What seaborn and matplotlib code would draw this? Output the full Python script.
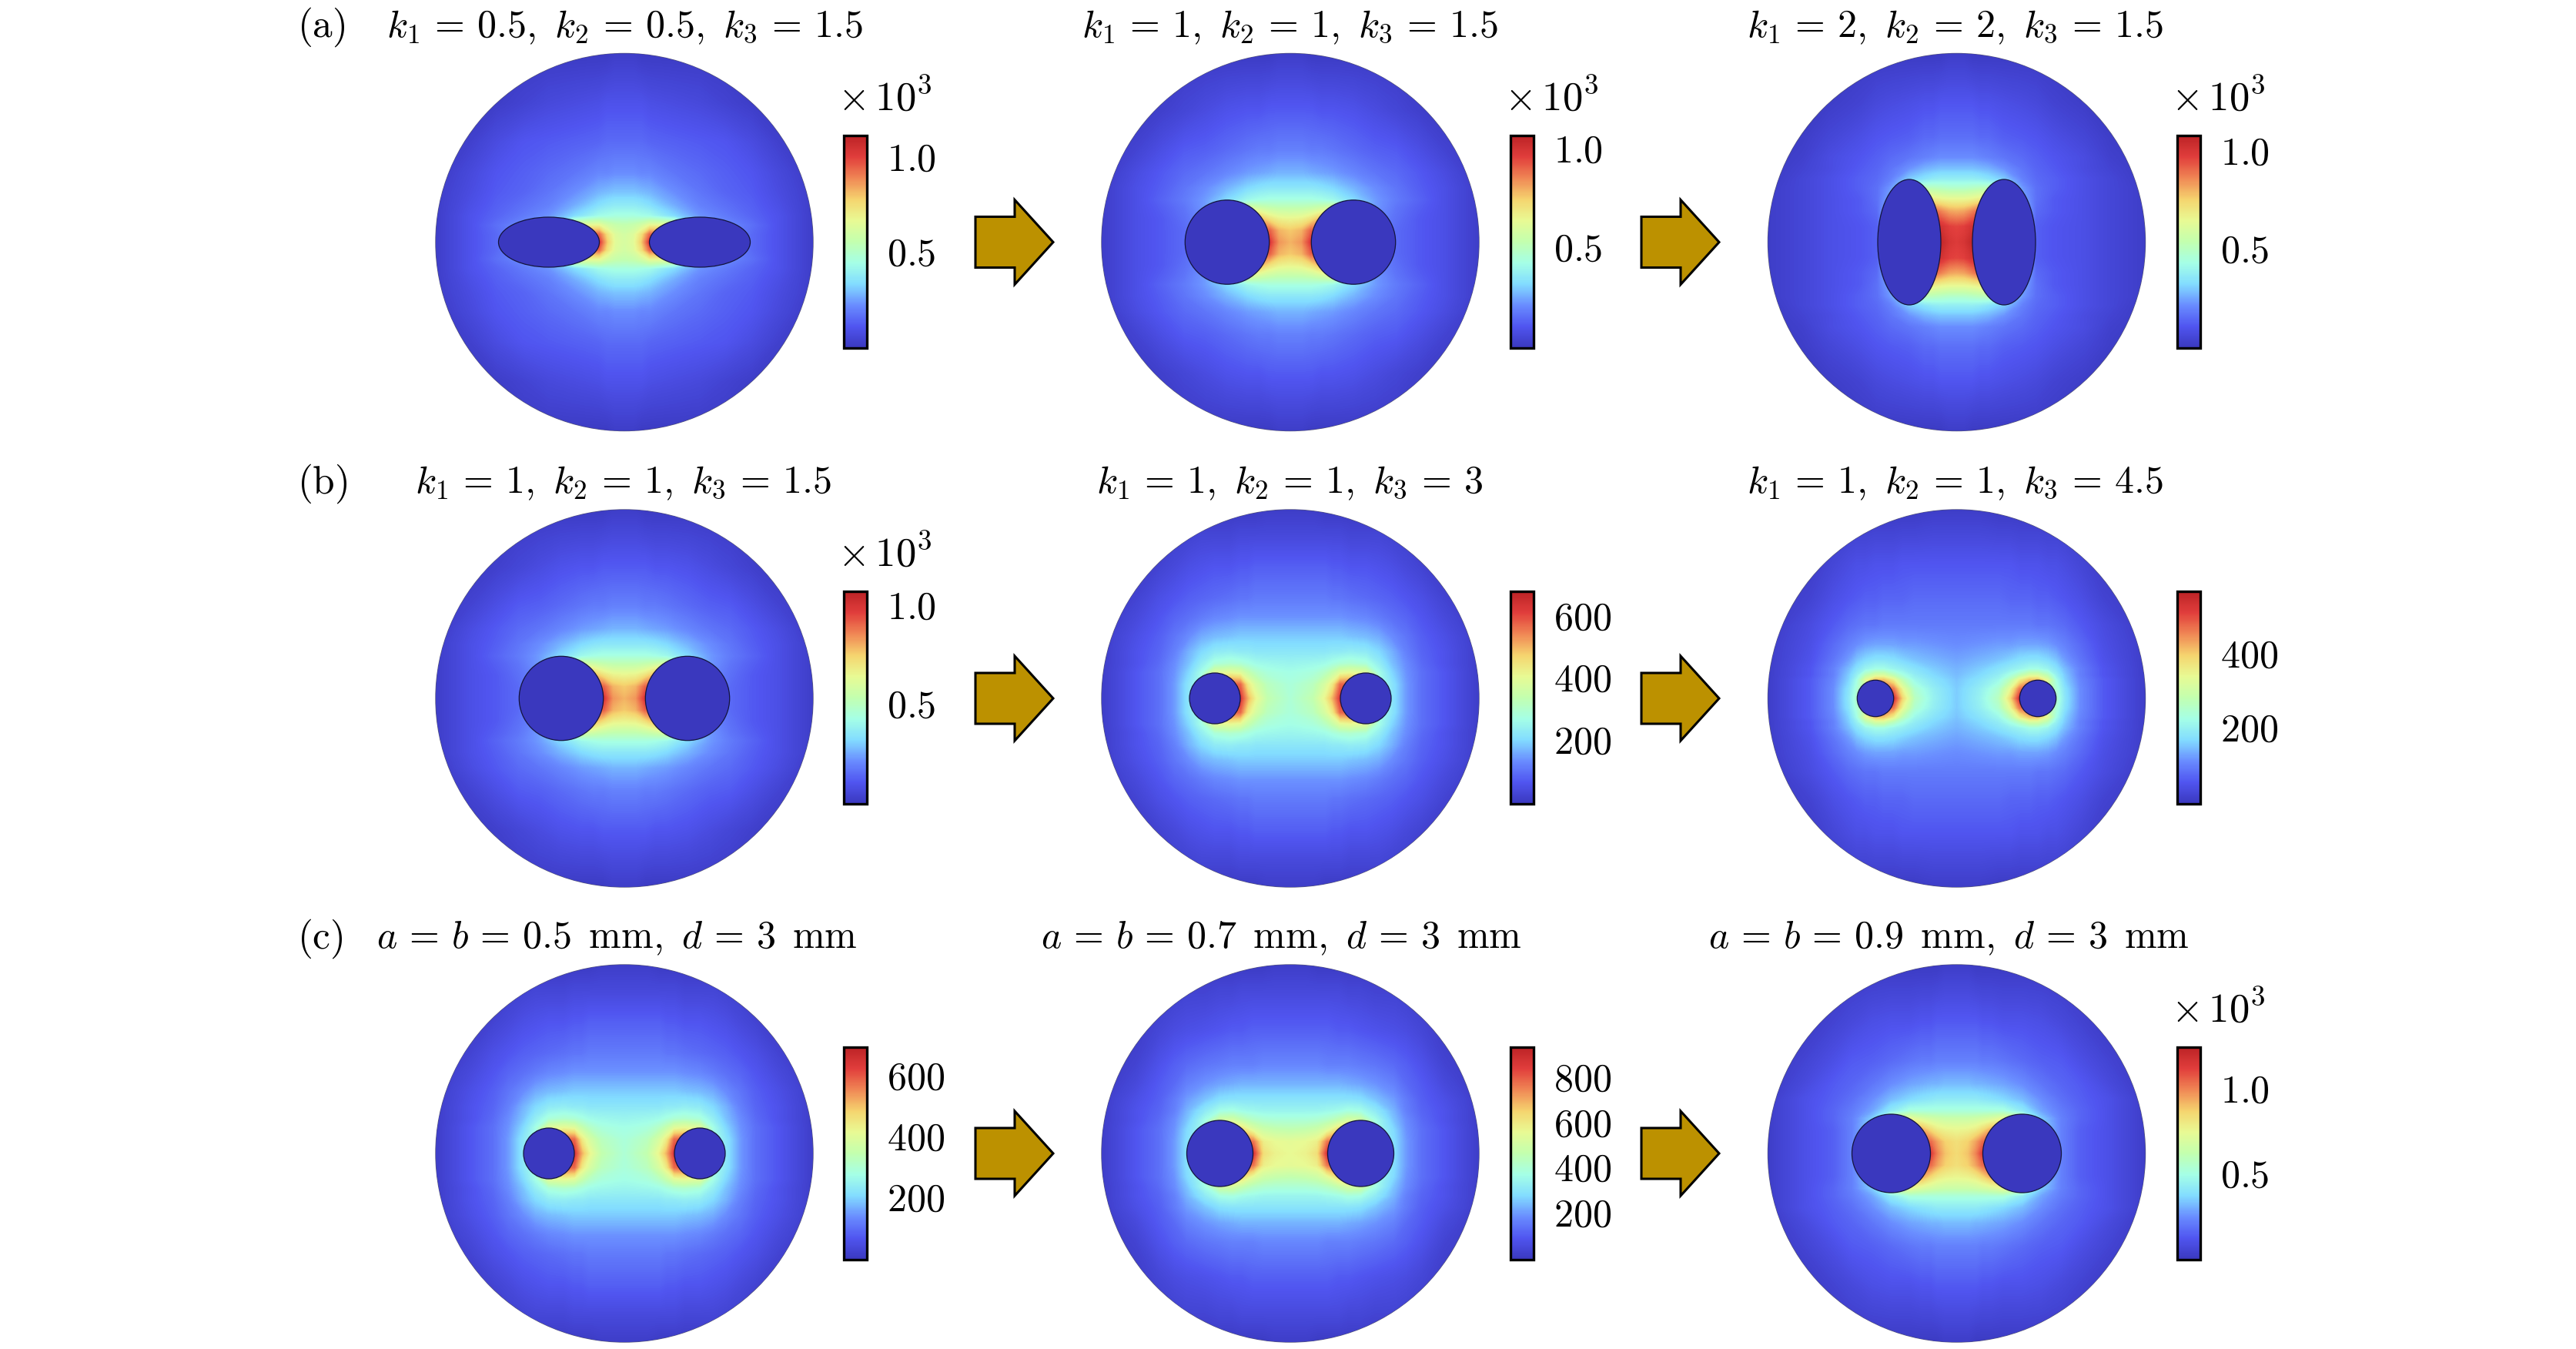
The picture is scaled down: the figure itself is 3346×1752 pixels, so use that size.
import numpy as np
import matplotlib
matplotlib.use("Agg")
import matplotlib.pyplot as plt
from matplotlib.cm import ScalarMappable
from matplotlib.colors import Normalize
from matplotlib.patches import Circle, Ellipse, Polygon
from matplotlib.transforms import ScaledTranslation
import seaborn as sns

W, H = 3346, 1752

# layout, in pixels of the reference
col_x = [811, 1676, 2541.5]
row_y = [314.5, 907, 1498]
disk_r = 245
bar_x = [1096, 1962, 2828]
bar_w = 30
bar_top = [176, 768, 1360]
bar_h = 276
arrow_x = [1267, 2132]

# colour scale (bottom to top)
scale_colors = ["#3A38BE", "#5055F0", "#698CFF", "#82DCFF", "#A5FFE6", "#C3FFAF",
                "#E8FA94", "#F5D46E", "#F08755", "#E13E3C", "#BC2326"]

titles = [
    [r"$k_1\,=\,0.5,\ k_2\,=\,0.5,\ k_3\,=\,1.5$", r"$k_1\,=\,1,\ k_2\,=\,1,\ k_3\,=\,1.5$",
     r"$k_1\,=\,2,\ k_2\,=\,2,\ k_3\,=\,1.5$"],
    [r"$k_1\,=\,1,\ k_2\,=\,1,\ k_3\,=\,1.5$", r"$k_1\,=\,1,\ k_2\,=\,1,\ k_3\,=\,3$",
     r"$k_1\,=\,1,\ k_2\,=\,1,\ k_3\,=\,4.5$"],
    [r"$a\,=\,b\,=\,0.5\ \,\mathrm{mm},\ d\,=\,3\ \,\mathrm{mm}$",
     r"$a\,=\,b\,=\,0.7\ \,\mathrm{mm},\ d\,=\,3\ \,\mathrm{mm}$",
     r"$a\,=\,b\,=\,0.9\ \,\mathrm{mm},\ d\,=\,3\ \,\mathrm{mm}$"],
]
title_x = [[811, 1676, 2540], [810, 1675, 2540], [801, 1664, 2531]]
row_labels = [r"$\mathrm{(a)}$", r"$\mathrm{(b)}$", r"$\mathrm{(c)}$"]

# hole centre offset and half axes, per panel
hole_d = [[98, 82, 61.5], [82, 98, 105.5], [98, 91.5, 85]]
hole_a = [[65.5, 54.7, 41], [54.7, 33, 23.7], [33, 43, 51]]
hole_b = [[32.5, 54.7, 81.5], [54.7, 33, 23.7], [33, 43, 51]]

# colour bar range and ticks
bar_max = [[1126, 1078, 1090], [1083, 685, 573], [701, 942, 1259]]
bar_ticks = [[[500, 1000], [500, 1000], [500, 1000]],
             [[500, 1000], [200, 400, 600], [200, 400]],
             [[200, 400, 600], [200, 400, 600, 800], [500, 1000]]]
bar_labels = [[["0.5", "1.0"], ["0.5", "1.0"], ["0.5", "1.0"]],
              [["0.5", "1.0"], ["200", "400", "600"], ["200", "400"]],
              [["200", "400", "600"], ["200", "400", "600", "800"], ["0.5", "1.0"]]]
bar_power = [[True, True, True], [True, False, False], [False, False, True]]

# field, one quarter of each disk, in % of the colour scale
a1_x = [0, 12, 22, 33, 65, 98, 130, 165, 200, 245]
a1_y = [0, 10, 22, 34, 48, 65, 90, 130, 180, 245]
a1_z = [[55, 58, 70, 92, 92, 50, 20, 14, 9, 2],
        [54, 57, 66, 84, 84, 40, 20, 14, 9, 2],
        [50, 51, 54, 60, 60, 30, 20, 15, 9, 2],
        [41, 41, 40, 39, 30, 21, 17, 13, 9, 2],
        [34, 34, 33, 31, 24, 18, 15, 12, 8, 2],
        [27, 27, 26, 25, 20, 16, 13, 11, 7, 2],
        [20, 20, 19, 19, 16, 14, 12, 10, 6, 1],
        [14, 14, 14, 13, 12, 11, 10, 7, 3, 1],
        [9, 9, 9, 8, 7, 6, 4, 2, 1, 1],
        [2, 2, 1, 1, 1, 1, 1, 1, 1, 1]]

a2_x = [0, 15, 27, 40, 55, 82, 110, 137, 165, 200, 245]
a2_y = [0, 15, 30, 45, 55, 70, 90, 120, 170, 245]
a2_z = [[74, 78, 92, 92, 92, 50, 20, 14, 11, 8, 2],
        [71, 74, 85, 85, 85, 50, 20, 14, 11, 8, 2],
        [61, 62, 66, 74, 74, 50, 20, 15, 11, 8, 2],
        [49, 49, 50, 52, 55, 40, 22, 16, 12, 8, 2],
        [41, 41, 41, 40, 38, 30, 22, 17, 13, 8, 2],
        [33, 33, 33, 32, 30, 25, 20, 16, 12, 8, 2],
        [25, 25, 24, 23, 22, 19, 16, 14, 11, 7, 1],
        [18, 18, 17, 17, 16, 14, 12, 11, 8, 4, 1],
        [11, 11, 11, 10, 10, 9, 7, 5, 3, 1, 1],
        [2, 2, 1, 1, 1, 1, 1, 1, 1, 1, 1]]

a3_x = [0, 10, 20, 30, 41, 61, 85, 103, 125, 165, 200, 245]
a3_y = [0, 20, 40, 55, 70, 82, 95, 110, 135, 180, 245]
a3_z = [[91, 93, 98, 98, 98, 60, 30, 12, 10, 8, 5, 2],
        [89, 90, 94, 94, 94, 60, 30, 12, 10, 8, 5, 2],
        [75, 76, 80, 85, 85, 60, 30, 14, 11, 8, 5, 2],
        [61, 61, 62, 64, 66, 50, 25, 15, 11, 8, 5, 2],
        [45, 45, 46, 47, 48, 40, 22, 15, 12, 8, 5, 2],
        [35, 35, 35, 34, 32, 28, 18, 14, 12, 8, 5, 1],
        [27, 27, 27, 26, 25, 21, 16, 13, 11, 7, 4, 1],
        [20, 20, 20, 19, 18, 16, 14, 12, 10, 7, 3, 1],
        [15, 15, 15, 14, 14, 12, 11, 10, 8, 5, 2, 1],
        [10, 10, 10, 9, 9, 8, 7, 6, 4, 2, 1, 1],
        [2, 2, 1, 1, 1, 1, 1, 1, 1, 1, 1, 1]]

b2_x = [0, 30, 45, 55, 65, 78, 98, 115, 131, 150, 170, 200, 245]
b2_y = [0, 18, 33, 45, 60, 80, 105, 130, 170, 210, 245]
b2_z = [[43, 50, 61, 74, 92, 92, 70, 40, 33, 22, 15, 10, 2],
        [42, 47, 55, 64, 84, 86, 70, 40, 33, 22, 15, 10, 2],
        [40, 42, 46, 51, 58, 60, 58, 40, 30, 21, 15, 10, 2],
        [37, 38, 39, 41, 43, 44, 42, 35, 27, 20, 14, 9, 2],
        [33, 33, 33, 34, 34, 35, 34, 30, 25, 18, 13, 9, 2],
        [28, 28, 28, 28, 28, 27, 26, 24, 20, 16, 12, 8, 2],
        [21, 21, 21, 21, 21, 20, 19, 17, 15, 13, 10, 6, 1],
        [17, 17, 17, 16, 16, 15, 14, 13, 12, 10, 8, 4, 1],
        [12, 12, 12, 11, 11, 10, 10, 9, 8, 6, 4, 2, 1],
        [6, 6, 6, 6, 6, 5, 5, 5, 4, 3, 2, 1, 1],
        [2, 2, 1, 1, 1, 1, 1, 1, 1, 1, 1, 1, 1]]

b3_x = [0, 30, 55, 70, 82, 95, 105, 118, 129, 140, 160, 190, 245]
b3_y = [0, 12, 24, 30, 38, 50, 70, 95, 130, 175, 245]
b3_z = [[28, 36, 47, 68, 93, 93, 70, 50, 45, 33, 20, 11, 2],
        [28, 35, 44, 60, 82, 88, 80, 50, 43, 32, 20, 11, 2],
        [27, 32, 38, 48, 62, 72, 72, 58, 40, 29, 19, 11, 2],
        [26, 30, 35, 41, 48, 56, 56, 48, 36, 28, 18, 10, 2],
        [25, 28, 32, 35, 37, 40, 40, 37, 32, 26, 18, 10, 2],
        [23, 25, 27, 29, 31, 32, 32, 30, 27, 22, 16, 9, 2],
        [20, 21, 22, 22, 23, 23, 23, 22, 20, 18, 14, 8, 2],
        [17, 17, 17, 17, 17, 17, 16, 16, 15, 14, 11, 7, 1],
        [14, 14, 14, 13, 13, 13, 12, 12, 11, 10, 8, 4, 1],
        [10, 10, 10, 10, 9, 9, 9, 8, 8, 7, 5, 2, 1],
        [2, 2, 1, 1, 1, 1, 1, 1, 1, 1, 1, 1, 1]]

c2_x = [0, 20, 35, 48, 62, 75, 91, 110, 134, 150, 170, 200, 245]
c2_y = [0, 15, 30, 43, 55, 70, 90, 115, 160, 210, 245]
c2_z = [[60, 62, 67, 92, 92, 92, 70, 40, 31, 22, 15, 10, 2],
        [59, 60, 63, 82, 88, 88, 70, 40, 31, 22, 15, 10, 2],
        [50, 51, 53, 58, 68, 72, 60, 40, 30, 21, 15, 10, 2],
        [43, 43, 44, 46, 50, 55, 54, 40, 27, 20, 14, 9, 2],
        [37, 37, 37, 38, 39, 41, 40, 34, 25, 18, 13, 9, 2],
        [32, 32, 32, 32, 32, 32, 31, 27, 22, 17, 12, 8, 2],
        [25, 25, 25, 25, 25, 24, 23, 21, 18, 14, 11, 6, 1],
        [19, 19, 19, 18, 18, 18, 17, 16, 14, 12, 9, 4, 1],
        [12, 12, 12, 12, 11, 11, 10, 9, 8, 7, 5, 2, 1],
        [6, 6, 6, 6, 6, 5, 5, 4, 4, 3, 2, 1, 1],
        [2, 2, 1, 1, 1, 1, 1, 1, 1, 1, 1, 1, 1]]

c3_x = [0, 15, 25, 33, 45, 60, 85, 110, 136, 160, 200, 245]
c3_y = [0, 15, 30, 45, 55, 70, 90, 120, 170, 245]
c3_z = [[68, 72, 80, 90, 90, 90, 60, 30, 18, 12, 8, 2],
        [67, 70, 76, 83, 88, 88, 60, 30, 18, 12, 8, 2],
        [61, 62, 64, 68, 76, 76, 60, 30, 18, 12, 8, 2],
        [52, 52, 53, 54, 56, 60, 55, 28, 18, 13, 8, 2],
        [42, 42, 42, 42, 42, 42, 34, 23, 17, 13, 8, 2],
        [34, 34, 34, 33, 32, 30, 26, 20, 15, 12, 8, 2],
        [26, 26, 25, 25, 24, 23, 20, 16, 13, 11, 6, 1],
        [18, 18, 18, 17, 17, 16, 14, 12, 11, 8, 4, 1],
        [11, 11, 11, 10, 10, 9, 9, 8, 6, 4, 1, 1],
        [2, 2, 1, 1, 1, 1, 1, 1, 1, 1, 1, 1]]

# (b) first panel repeats k = 1, 1, 1.5 and (c) first repeats the look of k3 = 3
fields = [[(a1_x, a1_y, a1_z), (a2_x, a2_y, a2_z), (a3_x, a3_y, a3_z)],
          [(a2_x, a2_y, a2_z), (b2_x, b2_y, b2_z), (b3_x, b3_y, b3_z)],
          [(b2_x, b2_y, b2_z), (c2_x, c2_y, c2_z), (c3_x, c3_y, c3_z)]]


def mirror(xs, ys, zs):
    xs, ys, zs = np.array(xs, float), np.array(ys, float), np.array(zs, float)
    x_all = np.concatenate([-xs[:0:-1], xs])
    y_all = np.concatenate([-ys[:0:-1], ys])
    z_all = np.hstack([zs[:, :0:-1], zs])
    z_all = np.vstack([z_all[:0:-1], z_all])
    return x_all, y_all, z_all


sns.set_theme(style="white", rc={"mathtext.fontset": "cm", "text.color": "black",
                                 "axes.edgecolor": "black", "ytick.color": "black"})
field_cmap = sns.blend_palette(scale_colors, as_cmap=True)

fig = plt.figure(figsize=(W / 200, H / 200))
ax = fig.add_axes([0, 0, 1, 1])
font_size = 18
label_shift = ScaledTranslation(0, 4 / 200, fig.dpi_scale_trans)

for r in range(3):
    ax.text(386, row_y[r] - 266.5, row_labels[r], fontsize=font_size + 0.5, ha="left", va="baseline")
    for c in range(3):
        cx, cy = col_x[c], row_y[r]
        vmax = bar_max[r][c]
        ax.text(title_x[r][c], cy - 266.5, titles[r][c], fontsize=font_size, ha="center", va="baseline")

        disk = Circle((cx, cy), disk_r, fc=scale_colors[0], ec="#55557A", lw=0.5, zorder=1)
        ax.add_patch(disk)
        x_all, y_all, z_all = mirror(*fields[r][c])
        cs = ax.contourf(cx + x_all, cy + y_all, z_all * vmax / 100, levels=np.linspace(0, vmax, 257),
                         cmap=field_cmap, extend="both", antialiased=False, zorder=2)
        cs.set_clip_path(disk)
        for side in (-1, 1):
            ax.add_patch(Ellipse((cx + side * hole_d[r][c], cy), 2 * hole_a[r][c], 2 * hole_b[r][c],
                                 fc=scale_colors[0], ec="#14143C", lw=0.45, zorder=3))

        # colour bar
        top = bar_top[r]
        cax = fig.add_axes([bar_x[c] / W, 1 - (top + bar_h) / H, bar_w / W, bar_h / H])
        sm = ScalarMappable(Normalize(0, vmax), cmap=field_cmap)
        cb = fig.colorbar(sm, cax=cax)
        cb.set_ticks(bar_ticks[r][c], labels=["$%s$" % t for t in bar_labels[r][c]])
        cb.outline.set_linewidth(1.2)
        cb.outline.set_edgecolor("black")
        cax.tick_params(axis="y", which="major", direction="in", right=True, length=5.4, width=1.0,
                        labelsize=font_size, pad=9.5, color="black")
        cax.minorticks_off()
        for lab in cax.get_yticklabels():
            lab.set_transform(lab.get_transform() + label_shift)
        if bar_power[r][c]:
            ax.text(bar_x[c] - 8, top - 33, r"$\times\,10^3$", fontsize=font_size + 1, ha="left", va="baseline")

    for x0 in arrow_x:
        cy = row_y[r]
        ax.add_patch(Polygon([(x0, cy - 33), (x0 + 51, cy - 33), (x0 + 51, cy - 55), (x0 + 101, cy),
                              (x0 + 51, cy + 55), (x0 + 51, cy + 33), (x0, cy + 33)],
                             closed=True, fc="#BC9100", ec="black", lw=1.1, joinstyle="miter", zorder=3))

ax.set_xlim(0, W)
ax.set_ylim(H, 0)
ax.axis("off")

plt.savefig("out.png", dpi=200)
plt.close()
